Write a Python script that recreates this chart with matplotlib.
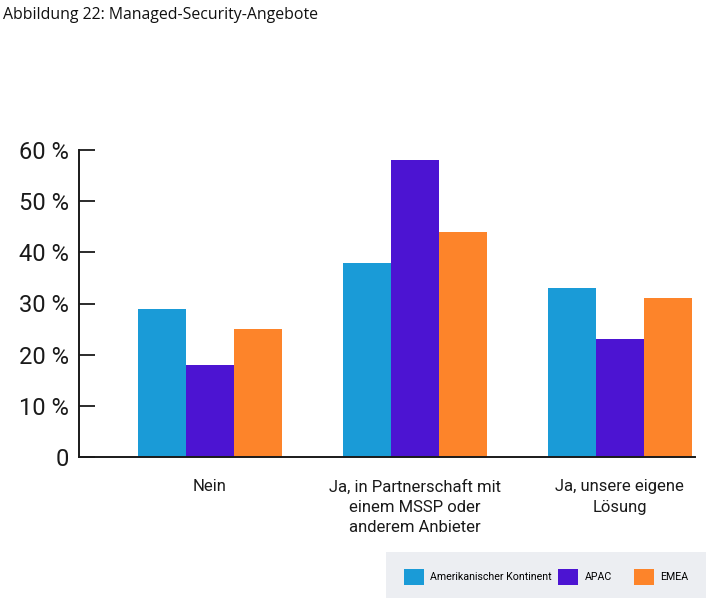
import numpy as np
import matplotlib.pyplot as plt
from matplotlib.patches import Patch, Rectangle


"""
Data of the chart
"""
categories = ["Nein",
              "Ja, in Partnerschaft mit\neinem MSSP oder\nanderem Anbieter",
              "Ja, unsere eigene\nLösung"]
series_names = ["Amerikanischer Kontinent", "APAC", "EMEA"]
amerika = [29, 38, 33]
apac = [18, 58, 23]
emea = [25, 44, 31]
y_ticks = [0, 10, 20, 30, 40, 50, 60]
y_labels = ["0", "10 %", "20 %", "30 %", "40 %", "50 %", "60 %"]

COLORS = ["#1a9bd7", "#4c14d2", "#fd842a"]
BAR_W = 0.234

plt.rcParams['font.family'] = ['Roboto', 'DejaVu Sans']

fig = plt.figure(figsize=(7.13, 6.0), dpi=100)
ax = fig.add_axes([79 / 713, 1 - 457 / 600, (695 - 79) / 713, (457 - 150) / 600])

x = np.arange(len(categories))
for i, vals in enumerate([amerika, apac, emea]):
    ax.bar(x + (i - 1) * BAR_W, vals, width=BAR_W, color=COLORS[i], linewidth=0)

ax.set_ylim(0, 60)
ax.set_xlim(-0.639, 2.368)
ax.set_yticks(y_ticks)
ax.set_yticklabels(y_labels, fontsize=17, color="#1a1a1a")
ax.set_xticks(x)
ax.set_xticklabels(categories, fontsize=12, color="#1a1a1a", linespacing=1.45)

ax.tick_params(axis='y', direction='in', length=11.5, width=1.3, pad=7, color="#1a1a1a")
ax.tick_params(axis='x', length=0, pad=16)

for side in ['top', 'right']:
    ax.spines[side].set_visible(False)
for side in ['left', 'bottom']:
    ax.spines[side].set_linewidth(1.4)
    ax.spines[side].set_color("#1a1a1a")

"Title"
fig.text(3 / 713, 1 - 15 / 600, "Abbildung 22: Managed-Security-Angebote",
         fontsize=11.4, family=['Open Sans', 'DejaVu Sans'], va='center', ha='left', color="#111111")

"Legend box, one entry per legend so each sits at its own spot"
fig.patches.append(Rectangle((386 / 713, 1 - 598 / 600), (706 - 386) / 713, (598 - 552) / 600,
                             transform=fig.transFigure, facecolor="#eceef2", edgecolor='none', zorder=0))
legend_x = [404, 558, 634]
for c, name, lx in zip(COLORS, series_names, legend_x):
    fig.legend([Patch(facecolor=c, edgecolor='none')], [name], loc='center left',
               bbox_to_anchor=(lx / 713, 1 - 577 / 600), frameon=False, fontsize=7.7,
               handlelength=1.87, handleheight=1.87, handletextpad=0.6,
               borderaxespad=0, borderpad=0)

fig.savefig("out.png", dpi=100)
